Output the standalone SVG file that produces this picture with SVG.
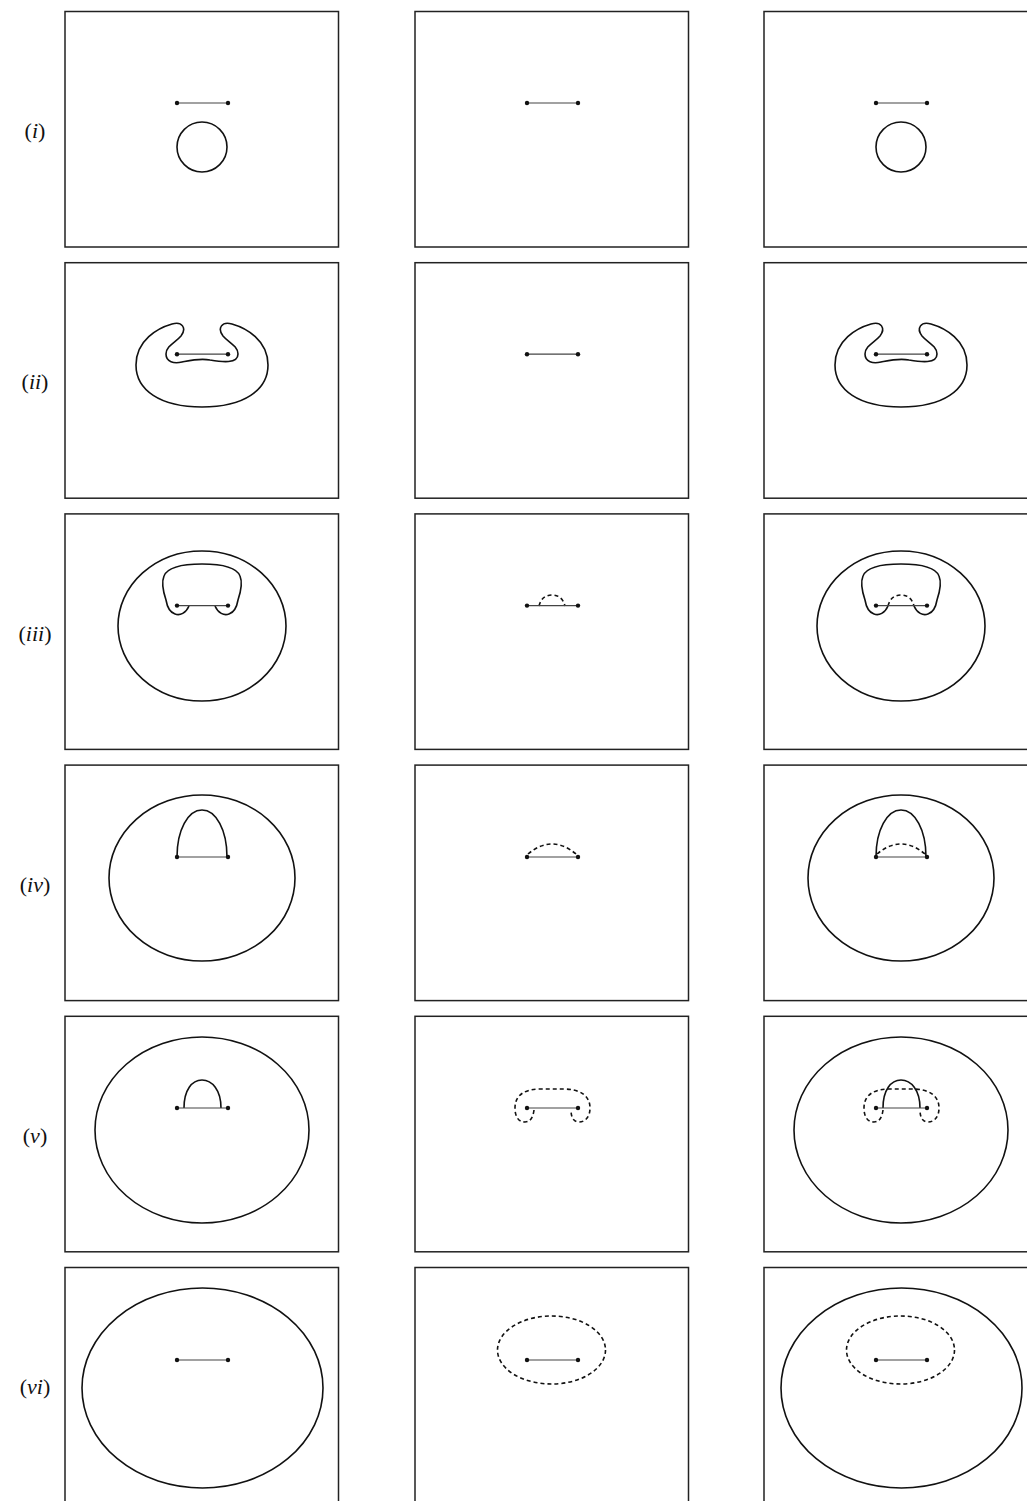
<svg xmlns="http://www.w3.org/2000/svg" xmlns:xlink="http://www.w3.org/1999/xlink" width="1027" height="1501" viewBox="0 0 1027 1501">
<style>
.box{fill:none;stroke:#222;stroke-width:1.5}
.curve{fill:none;stroke:#111;stroke-width:1.6}
.dash{fill:none;stroke:#111;stroke-width:1.6;stroke-dasharray:4 3}
.seg{stroke:#444;stroke-width:1.2}
.dot{fill:#111}
.lbl{font-family:"Liberation Serif",serif;font-size:22px;fill:#111;text-anchor:middle}
.it{font-style:italic}
</style>
<defs>
<g id="segment">
<line class="seg" x1="-25.5" y1="0" x2="25.5" y2="0"/>
<circle class="dot" cx="-25.5" cy="0" r="2.2"/>
<circle class="dot" cx="25.5" cy="0" r="2.2"/>
</g>
<rect id="frame" class="box" x="0" y="0" width="273.5" height="235.5"/>
<rect id="frameR" class="box" x="0" y="0" width="300" height="235.5"/>
<path id="kidney" class="curve" d="M 202,407 C 160,407 136,390 136,365 C 136,340 158,328 172,324 C 182,321 187,328 181,336 C 176,342 166,346 166,354 C 166,362 174,364 182,362 C 192,360 200,358 210,360 C 222,362 238,364 238,354 C 238,346 228,342 223,336 C 217,328 222,321 232,324 C 246,328 268,340 268,365 C 268,390 244,407 202,407 Z"/>
<path id="mush" class="curve" d="M 189,606 C 186,613 180,616 175,614 C 169,612 167,606 166,600 C 163,591 161,583 164,576 C 168,566 184,564 202,564 C 220,564 236,566 240,576 C 243,583 241,591 238,600 C 237,606 235,612 229,614 C 224,616 218,613 215,606"/>
<path id="mushd" class="dash" d="M 189,606 C 191,598 196,595 202,595 C 208,595 213,598 215,606"/>
<path id="arch4" class="curve" d="M 177,857 C 177,830 188,810 202,810 C 216,810 227,830 227,857"/>
<path id="arch4d" class="dash" d="M 178,854 Q 202,834 226,854"/>
<path id="arch5" class="curve" d="M 184,1108 C 184,1090 192,1080 202,1080 C 212,1080 221,1090 221,1108"/>
<path id="arch5d" class="dash" d="M 184,1110 C 183,1118 180,1122 175,1122 C 168,1122 165,1116 165,1108 C 165,1095 175,1089 190,1089 L 214,1089 C 229,1089 240,1095 240,1108 C 240,1116 236,1122 229,1122 C 224,1122 221,1118 221,1110"/>
</defs>

<g id="labels">
<text class="lbl" x="35" y="138">(<tspan class="it">i</tspan>)</text>
<text class="lbl" x="35" y="389">(<tspan class="it">ii</tspan>)</text>
<text class="lbl" x="35" y="641">(<tspan class="it">iii</tspan>)</text>
<text class="lbl" x="35" y="892">(<tspan class="it">iv</tspan>)</text>
<text class="lbl" x="35" y="1143">(<tspan class="it">v</tspan>)</text>
<text class="lbl" x="35" y="1394">(<tspan class="it">vi</tspan>)</text>
</g>

<!-- Row i -->
<g id="r1c1">
<use xlink:href="#frame" x="65" y="11.5"/>
<use xlink:href="#segment" x="202.5" y="103"/>
<circle class="curve" cx="202" cy="147" r="25"/>
</g>
<g id="r1c2">
<use xlink:href="#frame" x="415" y="11.5"/>
<use xlink:href="#segment" x="552.5" y="103"/>
</g>
<g id="r1c3">
<use xlink:href="#frameR" x="764" y="11.5"/>
<use xlink:href="#segment" x="901.5" y="103"/>
<circle class="curve" cx="901" cy="147" r="25"/>
</g>

<!-- Row ii -->
<g id="r2c1">
<use xlink:href="#frame" x="65" y="262.7"/>
<use xlink:href="#kidney"/>
<use xlink:href="#segment" x="202.5" y="354.2"/>
</g>
<g id="r2c2">
<use xlink:href="#frame" x="415" y="262.7"/>
<use xlink:href="#segment" x="552.5" y="354.2"/>
</g>
<g id="r2c3">
<use xlink:href="#frameR" x="764" y="262.7"/>
<use xlink:href="#kidney" x="699"/>
<use xlink:href="#segment" x="901.5" y="354.2"/>
</g>

<!-- Row iii -->
<g id="r3c1">
<use xlink:href="#frame" x="65" y="513.9"/>
<ellipse class="curve" cx="202" cy="626" rx="84" ry="75"/>
<use xlink:href="#mush"/>
<use xlink:href="#segment" x="202.5" y="605.6"/>
</g>
<g id="r3c2">
<use xlink:href="#frame" x="415" y="513.9"/>
<use xlink:href="#mushd" x="350"/>
<use xlink:href="#segment" x="552.5" y="605.6"/>
</g>
<g id="r3c3">
<use xlink:href="#frameR" x="764" y="513.9"/>
<ellipse class="curve" cx="901" cy="626" rx="84" ry="75"/>
<use xlink:href="#mush" x="699"/>
<use xlink:href="#mushd" x="699"/>
<use xlink:href="#segment" x="901.5" y="605.6"/>
</g>

<!-- Row iv -->
<g id="r4c1">
<use xlink:href="#frame" x="65" y="765.1"/>
<ellipse class="curve" cx="202" cy="878" rx="93" ry="83"/>
<use xlink:href="#arch4"/>
<use xlink:href="#segment" x="202.5" y="857"/>
</g>
<g id="r4c2">
<use xlink:href="#frame" x="415" y="765.1"/>
<use xlink:href="#arch4d" x="350"/>
<use xlink:href="#segment" x="552.5" y="857"/>
</g>
<g id="r4c3">
<use xlink:href="#frameR" x="764" y="765.1"/>
<ellipse class="curve" cx="901" cy="878" rx="93" ry="83"/>
<use xlink:href="#arch4" x="699"/>
<use xlink:href="#arch4d" x="699"/>
<use xlink:href="#segment" x="901.5" y="857"/>
</g>

<!-- Row v -->
<g id="r5c1">
<use xlink:href="#frame" x="65" y="1016.3"/>
<ellipse class="curve" cx="202" cy="1130" rx="107" ry="93"/>
<use xlink:href="#arch5"/>
<use xlink:href="#segment" x="202.5" y="1108"/>
</g>
<g id="r5c2">
<use xlink:href="#frame" x="415" y="1016.3"/>
<use xlink:href="#arch5d" x="350"/>
<use xlink:href="#segment" x="552.5" y="1108"/>
</g>
<g id="r5c3">
<use xlink:href="#frameR" x="764" y="1016.3"/>
<ellipse class="curve" cx="901" cy="1130" rx="107" ry="93"/>
<use xlink:href="#arch5" x="699"/>
<use xlink:href="#arch5d" x="699"/>
<use xlink:href="#segment" x="901.5" y="1108"/>
</g>

<!-- Row vi -->
<g id="r6c1">
<rect class="box" x="65" y="1267.5" width="273.5" height="260"/>
<ellipse class="curve" cx="202.5" cy="1388" rx="120.5" ry="100"/>
<use xlink:href="#segment" x="202.5" y="1360"/>
</g>
<g id="r6c2">
<rect class="box" x="415" y="1267.5" width="273.5" height="260"/>
<ellipse class="dash" cx="551.5" cy="1350" rx="54" ry="34"/>
<use xlink:href="#segment" x="552.5" y="1360"/>
</g>
<g id="r6c3">
<rect class="box" x="764" y="1267.5" width="300" height="260"/>
<ellipse class="curve" cx="901.5" cy="1388" rx="120.5" ry="100"/>
<ellipse class="dash" cx="900.5" cy="1350" rx="54" ry="34"/>
<use xlink:href="#segment" x="901.5" y="1360"/>
</g>
<g id="connectors"/>
</svg>
